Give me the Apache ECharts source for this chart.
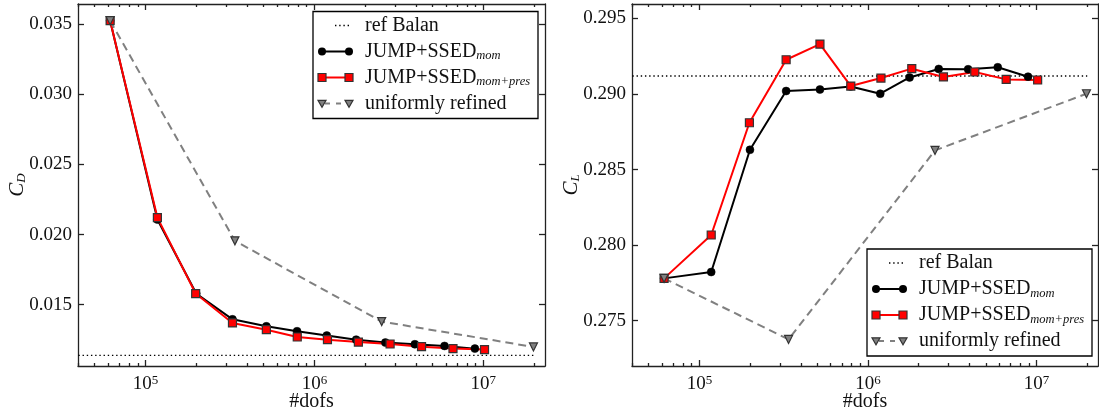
<!DOCTYPE html>
<html>
<head>
<meta charset="utf-8">
<script src="https://cdn.jsdelivr.net/npm/echarts@6/dist/echarts.min.js"></script>
<style>
  html, body { margin: 0; padding: 0; background: #fff; }
  #chart { width: 1099px; height: 412px; }
</style>
</head>
<body>
<div id="chart"></div>
<script>
// Drag (C_D) and lift (C_L) coefficients versus number of degrees of freedom.
const dofsMom = [61700, 117500, 199500, 327000, 519000, 789000, 1183000, 1766000, 2630000, 3930000, 5890000, 8910000];
const cdMom = [0.03526, 0.02107, 0.01579, 0.01395, 0.01345, 0.01310, 0.01279, 0.01250, 0.01229, 0.01217, 0.01205, 0.01186];
const clMom = [0.27780, 0.27822, 0.28631, 0.29020, 0.29030, 0.29050, 0.29002, 0.29110, 0.29166, 0.29164, 0.29177, 0.29115];

const dofsMomPres = [61700, 117500, 198000, 327000, 519000, 791000, 1194000, 1820000, 2805000, 4305000, 6610000, 10160000];
const cdMomPres = [0.03526, 0.02121, 0.01579, 0.01369, 0.01321, 0.01269, 0.01250, 0.01233, 0.01219, 0.01200, 0.01186, 0.01179];
const clMomPres = [0.27780, 0.28067, 0.28810, 0.29227, 0.29331, 0.29053, 0.29106, 0.29168, 0.29113, 0.29146, 0.29097, 0.29093];

const dofsUniform = [61700, 338000, 2500000, 19800000];
const cdUniform = [0.03526, 0.01955, 0.01379, 0.01198];
const clUniform = [0.27780, 0.27376, 0.28627, 0.29002];

// Reference value (Balan) drawn as a horizontal dotted line
const refSpan = [40000, 20000000];
const refBalanCD = 0.01138;
const refBalanCL = 0.29119;

// Axis ticks
const xExponents = [5, 6, 7];
const cdTicks = [0.015, 0.020, 0.025, 0.030, 0.035];
const clTicks = [0.275, 0.280, 0.285, 0.290, 0.295];

const xRange = [4.6, 7.365];       // log10(#dofs)
const cdRange = [0.01062, 0.03645];
const clRange = [0.2720, 0.29596];

const FONT = '"Liberation Serif", "DejaVu Serif", serif';
const INK = '#111';
const SPINE = { color: '#222', width: 1.3 };

const lg = v => Math.log10(v);
const pairs = (xs, ys) => xs.map((x, i) => [lg(x), ys[i]]);

// minor ticks of a base-10 log axis, inside the visible range
const minorLogs = [];
for (let e = 4; e <= 7; e++) {
  for (let k = 2; k <= 9; k++) {
    const v = Math.log10(k * Math.pow(10, e));
    if (v >= xRange[0] && v <= xRange[1]) minorLogs.push(v);
  }
}

function xAxesFor(gridIndex) {
  const base = { type: 'value', gridIndex, min: xRange[0], max: xRange[1], splitLine: { show: false } };
  return [
    Object.assign({}, base, {
      position: 'bottom',
      axisLine: { show: true, onZero: false, lineStyle: SPINE },
      axisTick: { show: true, inside: true, length: 6, customValues: xExponents, lineStyle: SPINE },
      axisLabel: {
        customValues: xExponents, margin: 8,
        formatter: v => '{b|10}{e|' + Math.round(v) + '}',
        rich: {
          b: { fontFamily: FONT, fontSize: 19, color: INK, lineHeight: 20 },
          e: { fontFamily: FONT, fontSize: 13, color: INK, verticalAlign: 'top', lineHeight: 12 }
        }
      },
      name: '#dofs', nameLocation: 'middle', nameGap: 26, nameMoveOverlap: false,
      nameTextStyle: { fontFamily: FONT, fontSize: 20, color: INK }
    }),
    Object.assign({}, base, {
      position: 'bottom',
      axisLine: { show: false },
      axisTick: { show: true, inside: true, length: 3, customValues: minorLogs, lineStyle: SPINE },
      axisLabel: { show: false }
    }),
    Object.assign({}, base, {
      position: 'top',
      axisLine: { show: true, onZero: false, lineStyle: SPINE },
      axisTick: { show: true, inside: true, length: 6, customValues: xExponents, lineStyle: SPINE },
      axisLabel: { show: false }
    }),
    Object.assign({}, base, {
      position: 'top',
      axisLine: { show: false },
      axisTick: { show: true, inside: true, length: 3, customValues: minorLogs, lineStyle: SPINE },
      axisLabel: { show: false }
    })
  ];
}

function yAxesFor(gridIndex, range, ticks, sub) {
  const base = { type: 'value', gridIndex, min: range[0], max: range[1], splitLine: { show: false } };
  return [
    Object.assign({}, base, {
      position: 'left',
      axisLine: { show: true, onZero: false, lineStyle: SPINE },
      axisTick: { show: true, inside: true, length: 6, customValues: ticks, lineStyle: SPINE },
      axisLabel: {
        customValues: ticks, margin: 6,
        formatter: v => v.toFixed(3),
        fontFamily: FONT, fontSize: 19, color: INK
      },
      name: '{c|C}{d|' + sub + '}', nameLocation: 'middle', nameRotate: 90, nameGap: 50, nameMoveOverlap: false,
      nameTextStyle: {
        rich: {
          c: { fontFamily: FONT, fontSize: 21, fontStyle: 'italic', color: INK, lineHeight: 22 },
          d: { fontFamily: FONT, fontSize: 13, fontStyle: 'italic', color: INK, verticalAlign: 'bottom', lineHeight: 12 }
        }
      }
    }),
    Object.assign({}, base, {
      position: 'right',
      axisLine: { show: true, onZero: false, lineStyle: SPINE },
      axisTick: { show: true, inside: true, length: 6, customValues: ticks, lineStyle: SPINE },
      axisLabel: { show: false }
    })
  ];
}

function seriesFor(gridIdx, refVal, yMom, yMomPres, yUniform) {
  const xi = gridIdx * 4, yi = gridIdx * 2;
  return [
    {
      name: 'ref Balan', type: 'line', xAxisIndex: xi, yAxisIndex: yi,
      data: refSpan.map(d => [lg(d), refVal]), symbol: 'none',
      lineStyle: { color: '#000', width: 1.4, type: [1.4, 2.8] }
    },
    {
      name: 'JUMP+SSED mom', type: 'line', xAxisIndex: xi, yAxisIndex: yi,
      data: pairs(dofsMom, yMom), symbol: 'circle', symbolSize: 8,
      lineStyle: { color: '#000', width: 2 },
      itemStyle: { color: '#000', borderColor: '#000', borderWidth: 0.5 }
    },
    {
      name: 'JUMP+SSED mom+pres', type: 'line', xAxisIndex: xi, yAxisIndex: yi,
      data: pairs(dofsMomPres, yMomPres), symbol: 'rect', symbolSize: 8,
      lineStyle: { color: '#ff0000', width: 2 },
      itemStyle: { color: '#ff0000', borderColor: '#333', borderWidth: 1.2 }
    },
    {
      name: 'uniformly refined', type: 'line', xAxisIndex: xi, yAxisIndex: yi,
      data: pairs(dofsUniform, yUniform), symbol: 'triangle', symbolRotate: 180, symbolSize: 8,
      lineStyle: { color: '#808080', width: 2, type: [8, 5] },
      itemStyle: { color: '#808080', borderColor: '#333', borderWidth: 1.2 }
    }
  ];
}

// Legend box: dotted line, circle line, square line, dashed triangle line
function legendBox(x, y) {
  const W = 225, H = 107, rowGap = 26, top = 14;
  const s0 = 9, s1 = 36, tx = 52;
  const kids = [{ type: 'rect', shape: { x: 0, y: 0, width: W, height: H },
                  style: { fill: '#fff', stroke: '#000', lineWidth: 1.3 } }];
  const rows = [
    { label: 'ref Balan' },
    { label: '{m|JUMP+SSED}{s|mom}' },
    { label: '{m|JUMP+SSED}{s|mom+pres}' },
    { label: 'uniformly refined' }
  ];
  rows.forEach((r, i) => {
    const cy = top + i * rowGap;
    if (i === 0) {
      kids.push({ type: 'line', shape: { x1: 22, y1: cy, x2: s1, y2: cy },
                  style: { stroke: '#000', lineWidth: 1.4, lineDash: [1.4, 2.8] } });
    } else if (i === 1) {
      kids.push({ type: 'line', shape: { x1: s0, y1: cy, x2: s1, y2: cy }, style: { stroke: '#000', lineWidth: 2 } });
      [s0, s1].forEach(sx => kids.push({ type: 'circle', shape: { cx: sx, cy, r: 4 }, style: { fill: '#000' } }));
    } else if (i === 2) {
      kids.push({ type: 'line', shape: { x1: s0, y1: cy, x2: s1, y2: cy }, style: { stroke: '#ff0000', lineWidth: 2 } });
      [s0, s1].forEach(sx => kids.push({ type: 'rect', shape: { x: sx - 4, y: cy - 4, width: 8, height: 8 },
                                          style: { fill: '#ff0000', stroke: '#333', lineWidth: 1.2 } }));
    } else {
      kids.push({ type: 'line', shape: { x1: s0 + 3, y1: cy, x2: s1 - 3, y2: cy },
                  style: { stroke: '#808080', lineWidth: 2, lineDash: [5, 6] } });
      [s0, s1].forEach(sx => kids.push({ type: 'polygon',
        shape: { points: [[sx - 4, cy - 3.2], [sx + 4, cy - 3.2], [sx, cy + 3.8]] },
        style: { fill: '#808080', stroke: '#333', lineWidth: 1.2 } }));
    }
    kids.push({ type: 'text', x: tx, y: cy,
      style: {
        text: r.label, fill: INK, fontFamily: FONT, fontSize: 20, verticalAlign: 'middle', align: 'left',
        rich: {
          m: { fontFamily: FONT, fontSize: 20, fill: INK, lineHeight: 22 },
          s: { fontFamily: FONT, fontSize: 12.5, fontStyle: 'italic', fill: INK, verticalAlign: 'bottom', lineHeight: 12 }
        }
      } });
  });
  return { type: 'group', x, y, children: kids, z: 100 };
}

const chart = echarts.init(document.getElementById('chart'), null, { renderer: 'canvas' });
chart.setOption({
  animation: false,
  backgroundColor: '#fff',
  grid: [
    { left: 78, top: 4, width: 467, height: 362, show: false, containLabel: false, outerBoundsMode: 'none' },
    { left: 632, top: 4, width: 466, height: 362, show: false, containLabel: false, outerBoundsMode: 'none' }
  ],
  xAxis: xAxesFor(0).concat(xAxesFor(1)),
  yAxis: yAxesFor(0, cdRange, cdTicks, 'D').concat(yAxesFor(1, clRange, clTicks, 'L')),
  series: seriesFor(0, refBalanCD, cdMom, cdMomPres, cdUniform)
    .concat(seriesFor(1, refBalanCL, clMom, clMomPres, clUniform)),
  graphic: [legendBox(313, 11.5), legendBox(867, 249)]
});
</script>
</body>
</html>
